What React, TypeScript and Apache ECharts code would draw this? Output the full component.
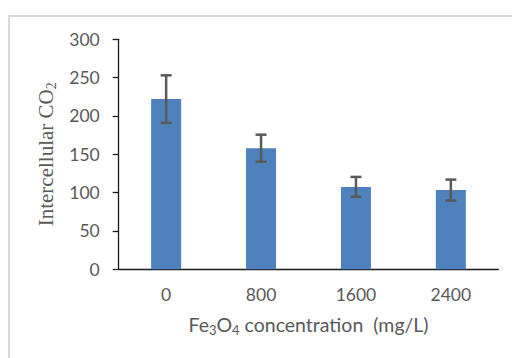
import React, { useEffect, useRef } from "react";
import * as echarts from "echarts";

const categories = ["0", "800", "1600", "2400"];
const values = [222, 158, 107.5, 103.3];
const errors = [31, 17.6, 13, 13.7];
const yMin = 0;
const yMax = 300;
const yInterval = 50;

export default function App() {
  const ref = useRef<HTMLDivElement>(null);
  useEffect(() => {
    if (!ref.current) return;
    const chart = echarts.init(ref.current, null, { renderer: "svg" });
    const sansFont = "Lato, 'Open Sans', sans-serif";
    const serifFont = "'Liberation Serif', 'DejaVu Serif', serif";
    chart.setOption({
      animation: false,
      backgroundColor: "#ffffff",
      graphic: [
        {
          type: "rect",
          shape: { x: 9, y: 16, width: 700, height: 500 },
          style: { fill: "none", stroke: "#D9D9D9", lineWidth: 2 },
          silent: true,
        },
      ],
      grid: { left: 118.7, right: 13.7, top: 39.3, bottom: 88.7 },
      xAxis: {
        type: "category",
        data: categories,
        axisTick: { show: false },
        axisLine: { lineStyle: { color: "#1a1a1a", width: 1.3 } },
        axisLabel: {
          color: "#595959",
          fontFamily: sansFont,
          fontSize: 17.5,
          margin: 16,
        },
        name: "{a|Fe}{s|3}{a|O}{s|4}{a| concentration  (mg/L)}",
        nameLocation: "middle",
        nameGap: 44,
        nameTextStyle: {
          rich: {
            a: {
              fontFamily: sansFont,
              fontSize: 19.5,
              color: "#595959",
              lineHeight: 23,
            },
            s: {
              fontFamily: sansFont,
              fontSize: 13,
              color: "#595959",
              lineHeight: 13,
              verticalAlign: "bottom",
            },
          },
        },
      },
      yAxis: {
        type: "value",
        min: yMin,
        max: yMax,
        interval: yInterval,
        splitLine: { show: false },
        axisLine: { show: true, lineStyle: { color: "#1a1a1a", width: 1.3 } },
        axisTick: {
          show: true,
          inside: false,
          length: 6,
          lineStyle: { color: "#1a1a1a", width: 1.3 },
        },
        axisLabel: {
          color: "#595959",
          fontFamily: sansFont,
          fontSize: 17.5,
          margin: 19,
        },
        name: "{a|Intercellular CO}{s|2}",
        nameLocation: "middle",
        nameRotate: 90,
        nameGap: 53,
        nameTextStyle: {
          rich: {
            a: {
              fontFamily: serifFont,
              fontSize: 21,
              color: "#595959",
              lineHeight: 24,
            },
            s: {
              fontFamily: serifFont,
              fontSize: 14,
              color: "#595959",
              lineHeight: 14,
              verticalAlign: "bottom",
            },
          },
        },
      },
      series: [
        {
          type: "bar",
          data: values,
          barWidth: 30,
          itemStyle: { color: "#4F81BD" },
        },
        {
          type: "custom",
          data: categories.map((c, i) => [i, values[i], errors[i]]),
          z: 10,
          renderItem: (params: any, api: any) => {
            const x = api.value(0);
            const v = api.value(1);
            const e = api.value(2);
            const top = api.coord([x, v + e]);
            const bot = api.coord([x, v - e]);
            const hw = 5.5;
            const st = { stroke: "#595959", lineWidth: 2.5 };
            return {
              type: "group",
              children: [
                { type: "line", shape: { x1: top[0], y1: top[1], x2: bot[0], y2: bot[1] }, style: st },
                { type: "line", shape: { x1: top[0] - hw, y1: top[1], x2: top[0] + hw, y2: top[1] }, style: st },
                { type: "line", shape: { x1: bot[0] - hw, y1: bot[1], x2: bot[0] + hw, y2: bot[1] }, style: st },
              ],
            };
          },
        },
      ],
    });
    return () => chart.dispose();
  }, []);
  return (
    <div
      ref={ref}
      style={{ position: "fixed", left: 0, top: 0, width: 512, height: 358 }}
    />
  );
}
